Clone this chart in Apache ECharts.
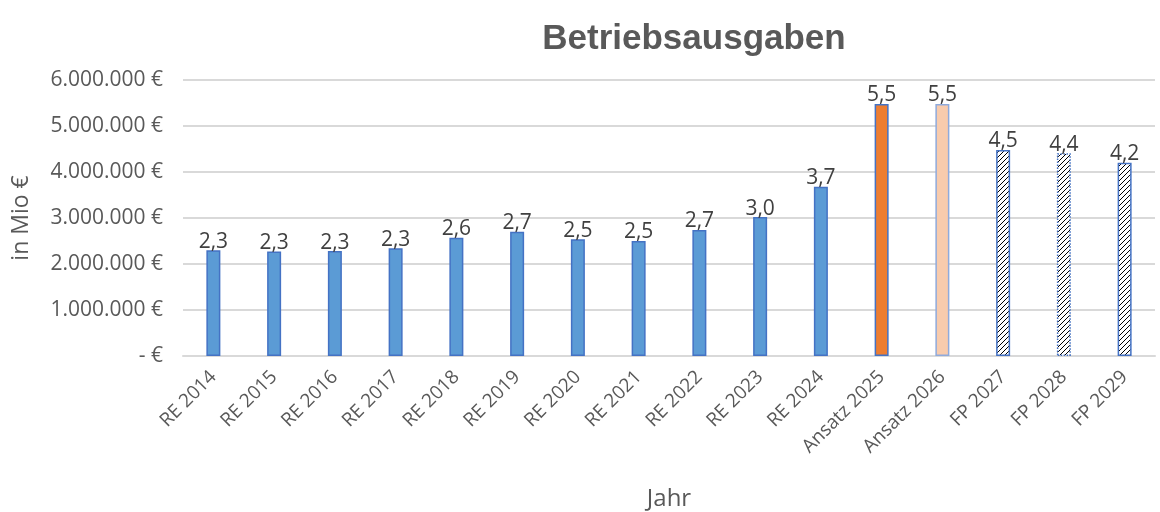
<!DOCTYPE html>
<html>
<head>
<meta charset="utf-8">
<script src="https://cdn.jsdelivr.net/npm/echarts@6/dist/echarts.min.js"></script>
<style>
  html, body { margin: 0; padding: 0; background: #fff; }
  #main { width: 1160px; height: 512px; }
</style>
</head>
<body>
<div id="main"></div>
<script>
    // Betriebsausgaben in EUR per year
    var categories = ['RE 2014', 'RE 2015', 'RE 2016', 'RE 2017', 'RE 2018', 'RE 2019', 'RE 2020', 'RE 2021',
        'RE 2022', 'RE 2023', 'RE 2024', 'Ansatz 2025', 'Ansatz 2026', 'FP 2027', 'FP 2028', 'FP 2029'];
    var values = [2300000, 2270000, 2280000, 2340000, 2570000, 2700000, 2540000, 2500000,
        2740000, 3020000, 3680000, 5480000, 5480000, 4480000, 4410000, 4200000];
    var yTicks = [0, 1000000, 2000000, 3000000, 4000000, 5000000, 6000000];

    var textColor = '#595959';
    var font = '"Open Sans", sans-serif';

    // hatch pattern for the plan years
    var hatch = document.createElement('canvas');
    hatch.width = 5;
    hatch.height = 5;
    var ctx = hatch.getContext('2d');
    ctx.fillStyle = '#fff';
    ctx.fillRect(0, 0, 5, 5);
    ctx.strokeStyle = '#000';
    ctx.lineWidth = 1;
    ctx.beginPath();
    ctx.moveTo(-1, 6); ctx.lineTo(6, -1);
    ctx.moveTo(-1, 1); ctx.lineTo(1, -1);
    ctx.moveTo(4, 6); ctx.lineTo(6, 4);
    ctx.stroke();

    function styleFor(name) {
        if (name === 'Ansatz 2025') return { color: '#ED7D31', borderColor: '#4472C4', borderWidth: 1.5 };
        if (name === 'Ansatz 2026') return { color: '#F8CBAD', borderColor: '#8FAADC', borderWidth: 1.5 };
        if (name === 'FP 2028') return { color: { image: hatch, repeat: 'repeat' }, borderColor: '#4472C4', borderWidth: 1.5, borderType: 'dotted' };
        if (name.indexOf('FP') === 0) return { color: { image: hatch, repeat: 'repeat' }, borderColor: '#4472C4', borderWidth: 1.5 };
        return { color: '#5B9BD5', borderColor: '#4472C4', borderWidth: 1.5 };
    }

    var barData = [];
    for (let i = 0; i < values.length; i++) {
        barData.push({ value: values[i], itemStyle: styleFor(categories[i]) });
    }

    function euro(v) {
        if (v === 0) return '- €';
        return String(v).replace(/\B(?=(\d{3})+(?!\d))/g, '.') + ' €';
    }

    var chart = echarts.init(document.getElementById('main'), null, { renderer: 'canvas' });
    chart.setOption({
        animation: false,
        backgroundColor: '#fff',
        title: {
            text: 'Betriebsausgaben',
            left: 689,
            top: 17,
            textAlign: 'center',
            textStyle: {
                fontFamily: '"Liberation Sans", Arial, sans-serif',
                fontSize: 35,
                fontWeight: 'bold',
                color: textColor
            }
        },
        grid: {
            left: 183,
            right: 5,
            top: 80,
            bottom: 156,
            outerBoundsMode: 'none'
        },
        xAxis: {
            type: 'category',
            data: categories,
            name: 'Jahr',
            nameLocation: 'middle',
            nameGap: 131,
            nameTextStyle: { fontFamily: font, fontSize: 24, color: textColor },
            axisLine: { lineStyle: { color: '#d9d9d9', width: 2 } },
            axisTick: { show: false },
            axisLabel: {
                interval: 0,
                rotate: 45,
                margin: 18,
                fontFamily: font,
                fontSize: 19,
                color: textColor
            }
        },
        yAxis: {
            type: 'value',
            min: yTicks[0],
            max: yTicks[yTicks.length - 1],
            interval: yTicks[1] - yTicks[0],
            name: 'in Mio €',
            nameLocation: 'middle',
            nameGap: 150,
            nameTextStyle: { fontFamily: font, fontSize: 23, color: textColor },
            axisLine: { show: false },
            axisTick: { show: false },
            splitLine: { lineStyle: { color: '#d9d9d9', width: 2 } },
            axisLabel: {
                margin: 20,
                fontFamily: font,
                fontSize: 21,
                color: textColor,
                formatter: euro
            }
        },
        series: [{
            type: 'bar',
            data: barData,
            barWidth: 14,
            label: {
                show: true,
                position: 'top',
                distance: -2,
                fontFamily: font,
                fontSize: 21,
                color: '#404040',
                formatter: function (p) {
                    return (p.value / 1000000).toFixed(1).replace('.', ',');
                }
            }
        }]
    });
</script>
</body>
</html>
